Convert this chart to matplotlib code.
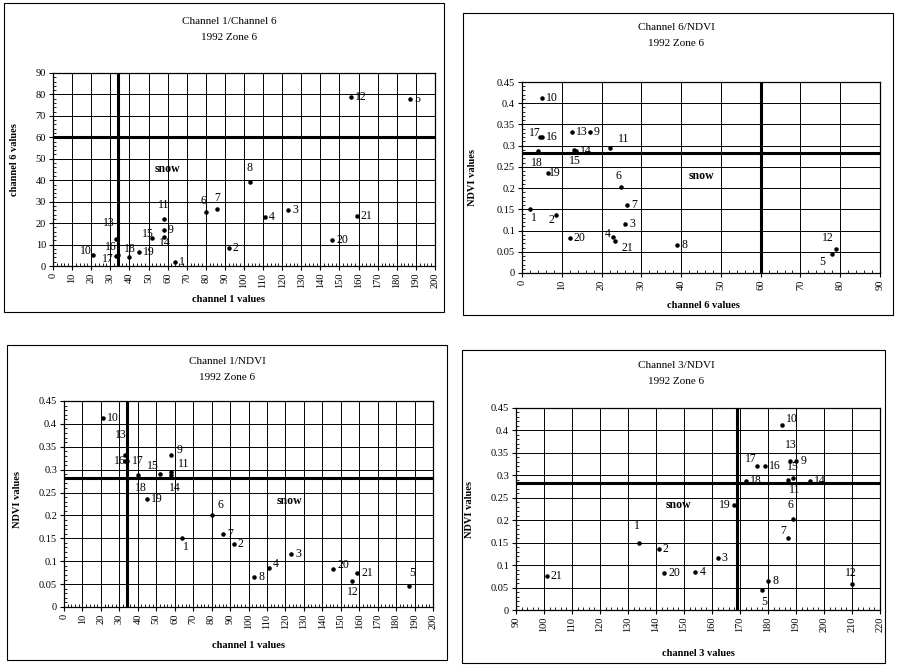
import matplotlib.pyplot as plt
import numpy as np
from matplotlib.patches import Rectangle
from matplotlib.ticker import MultipleLocator, AutoMinorLocator

plt.rcParams['font.family'] = ['Liberation Serif', 'DejaVu Serif']

# point ids and values
point_id = [1, 2, 3, 4, 5, 6, 7, 8, 9, 10, 11, 12, 13, 14, 15, 16, 17, 18, 19, 20, 21]
ch1 = [64, 92, 123, 111, 187, 80, 86, 103, 58, 21, 58, 156, 33, 58, 52, 34, 33, 40, 45, 146, 159]
ch3 = [134, 141, 162, 154, 178, 189, 187, 180, 190, 185, 189, 210, 188, 195, 187, 179, 176, 172, 168, 143, 101]
ch6 = [2, 8.5, 26, 23, 78, 25, 26.5, 39, 17, 5, 22, 79, 12.5, 13.5, 13, 5, 4.5, 4, 6.5, 12, 23.5]
ndvi = [0.150, 0.137, 0.115, 0.085, 0.045, 0.202, 0.160, 0.065, 0.333, 0.413, 0.295, 0.057,
        0.333, 0.288, 0.290, 0.320, 0.320, 0.288, 0.235, 0.082, 0.075]

ch1_limit = 34
ch3_limit = 169
ch6_limit = 60
ndvi_limit = 0.282

W, H = 899, 665
fig = plt.figure(figsize=(W / 100, H / 100), dpi=100)


def rect(l, t, r, b):
    return [l / W, 1 - b / H, (r - l) / W, (b - t) / H]


def box(l, t, r, b):
    fig.patches.append(Rectangle((l / W, 1 - b / H), (r - l) / W, (b - t) / H,
                                 transform=fig.transFigure, fill=False,
                                 edgecolor='black', linewidth=0.8))


def ftext(x, y, s, **kw):
    fig.text(x / W, 1 - y / H, s, ha='center', va='center', **kw)


def panel(pos, xs, ys, xlim, xstep, ylim, ystep, vline, hline, snow, offsets, ylabfmt):
    ax = fig.add_axes(rect(*pos))
    ax.scatter(xs, ys, s=5, color='black', zorder=3)
    for i, x, y in zip(point_id, xs, ys):
        dx, dy, ha = offsets.get(i, (3, 0, 'left'))
        ax.annotate(str(i), (x, y), xytext=(dx, dy), textcoords='offset points',
                    ha=ha, va='center', fontsize=8.5, zorder=4)
    ax.axvline(vline, color='black', lw=2.2, zorder=2)
    ax.axhline(hline, color='black', lw=2.2, zorder=2)
    ax.text(snow[0], snow[1], 'snow', fontsize=8.5, fontweight='bold', ha='center', va='center')
    ax.set_xlim(*xlim)
    ax.set_ylim(*ylim)
    ax.xaxis.set_major_locator(MultipleLocator(xstep))
    ax.yaxis.set_major_locator(MultipleLocator(ystep))
    ax.xaxis.set_minor_locator(AutoMinorLocator(5))
    ax.yaxis.set_minor_locator(AutoMinorLocator(5))
    ax.grid(True, which='major', color='black', lw=0.7)
    ax.set_axisbelow(True)
    ax.tick_params(axis='x', which='major', labelrotation=90, labelsize=7.5, length=3, pad=2)
    ax.tick_params(axis='y', which='major', labelsize=7.5, length=3, pad=2)
    ax.tick_params(which='minor', direction='in', length=2, width=0.6)
    ax.yaxis.set_major_formatter(plt.FuncFormatter(ylabfmt))
    for sp in ax.spines.values():
        sp.set_linewidth(0.9)
    return ax


def fmt_int(v, p):
    return '%d' % round(v)


def fmt_ndvi(v, p):
    return ('%.2f' % v).rstrip('0').rstrip('.') if v else '0'


# panel 1: channel 1 / channel 6
box(4, 3, 444, 312)
ftext(229, 22, 'Channel 1/Channel 6', fontsize=8)
ftext(229, 37, '1992 Zone 6', fontsize=8)
off1 = {6: (-2, 8, 'center'), 7: (0, 8, 'center'), 8: (0, 10, 'center'), 11: (0, 10, 'center'),
        13: (-5, 12, 'center'), 16: (-5, 6, 'center'), 17: (-6, -2, 'center'),
        18: (0, 6, 'center'), 10: (-5, 3, 'center'), 15: (-3, 3, 'center'), 14: (1, -4, 'center')}
panel((53, 73, 435, 266), ch1, ch6, (0, 200), 10, (0, 90), 10,
      ch1_limit, ch6_limit, (60, 45), off1, fmt_int)
ftext(15, 160, 'channel 6 values', fontsize=7.5, fontweight='bold', rotation=90)
ftext(228, 300, 'channel 1 values', fontsize=7.5, fontweight='bold')

# panel 2: channel 6 / NDVI
box(463, 13, 893, 315)
ftext(676, 27, 'Channel 6/NDVI', fontsize=8)
ftext(676, 43, '1992 Zone 6', fontsize=8)
off2 = {17: (-4, 3, 'center'), 11: (6, 6, 'left'), 15: (1, -8, 'center'), 18: (-1, -9, 'center'),
        6: (-2, 8, 'center'), 1: (3, -6, 'center'), 2: (-3, -4, 'center'), 4: (-4, 2, 'center'),
        21: (4, -5, 'left'), 12: (-6, 8, 'center'), 5: (-7, -6, 'center'), 19: (1, 0, 'left')}
panel((522, 82, 880, 273), ch6, ndvi, (0, 90), 10, (0, 0.45), 0.05,
      ch6_limit, ndvi_limit, (45, 0.229), off2, fmt_ndvi)
ftext(472, 178, 'NDVI values', fontsize=7.5, fontweight='bold', rotation=90)
ftext(703, 305, 'channel 6 values', fontsize=7.5, fontweight='bold')

# panel 3: channel 1 / NDVI
box(7, 345, 447, 660)
ftext(227, 362, 'Channel 1/NDVI', fontsize=8)
ftext(227, 377, '1992 Zone 6', fontsize=8)
off3 = {13: (-3, 14, 'center'), 16: (-5, 0, 'center'), 17: (5, 0, 'left'), 15: (-5, 6, 'center'),
        9: (4, 3, 'left'), 11: (5, 6, 'left'), 14: (3, -9, 'center'), 18: (2, -9, 'center'),
        6: (4, 7, 'left'), 1: (3, -6, 'center'), 4: (3, 3, 'left'), 20: (3, 3, 'left'),
        12: (1, -8, 'center'), 5: (2, 10, 'center')}
panel((64, 401, 433, 607), ch1, ndvi, (0, 200), 10, (0, 0.45), 0.05,
      ch1_limit, ndvi_limit, (122, 0.232), off3, fmt_ndvi)
ftext(17, 500, 'NDVI values', fontsize=7.5, fontweight='bold', rotation=90)
ftext(249, 645, 'channel 1 values', fontsize=7.5, fontweight='bold')

# panel 4: channel 3 / NDVI
box(462, 350, 885, 663)
ftext(676, 365, 'Channel 3/NDVI', fontsize=8)
ftext(676, 382, '1992 Zone 6', fontsize=8)
off4 = {10: (3, 4, 'left'), 13: (0, 11, 'center'), 17: (-4, 5, 'center'), 15: (4, 9, 'center'),
        11: (1, -9, 'center'), 6: (-2, 10, 'center'), 7: (-3, 5, 'center'), 12: (-1, 8, 'center'),
        5: (1, -9, 'center'), 19: (-3, 0, 'right'), 1: (-2, 12, 'center')}
panel((516, 408, 880, 610), ch3, ndvi, (90, 220), 10, (0, 0.45), 0.05,
      ch3_limit, ndvi_limit, (148, 0.234), off4, fmt_ndvi)
ftext(470, 510, 'NDVI values', fontsize=7.5, fontweight='bold', rotation=90)
ftext(698, 653, 'channel 3 values', fontsize=7.5, fontweight='bold')

fig.savefig('out.png', dpi=100, facecolor='white')
